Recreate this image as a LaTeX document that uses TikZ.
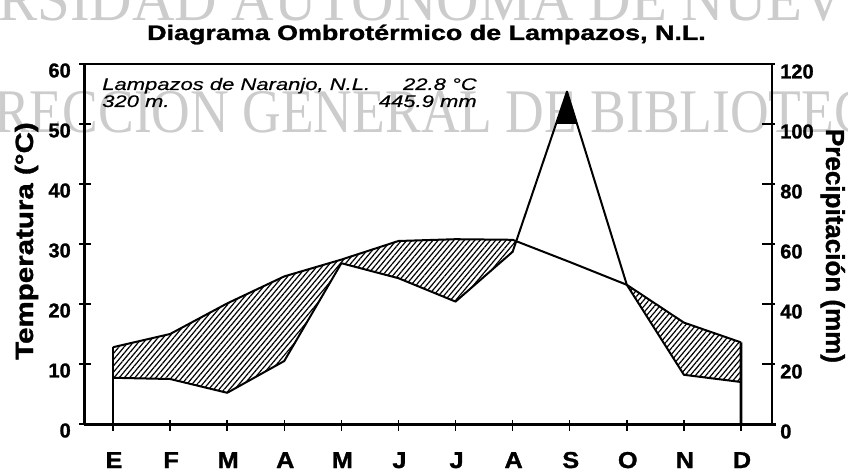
\documentclass[tikz,border=0pt]{standalone}
\usepackage{fontspec}
\setmainfont{Liberation Sans}
\newfontfamily\heavyfont{Liberation Sans}[BoldFeatures={FakeBold=1.2}, ItalicFeatures={FakeBold=0.4}]
\newfontfamily\wmfont{Liberation Serif}
\usetikzlibrary{patterns.meta}
\tikzset{
  wm/.style={font=\wmfont\fontsize{39.75pt}{40pt}\selectfont, text=black!20, inner sep=0pt},
  titlefont/.style={font=\heavyfont\bfseries\fontsize{15.75pt}{16pt}\selectfont, inner sep=0pt},
  info/.style={font=\heavyfont\itshape\fontsize{12.6pt}{13pt}\selectfont, inner sep=0pt},
  ticknum/.style={font=\heavyfont\bfseries\fontsize{15pt}{15pt}\selectfont, inner sep=0pt},
  monthlab/.style={font=\heavyfont\bfseries\fontsize{17.25pt}{17pt}\selectfont, inner sep=0pt},
  axlabA/.style={font=\heavyfont\bfseries\fontsize{18.75pt}{19pt}\selectfont, inner sep=0pt},
  axlabB/.style={font=\heavyfont\bfseries\fontsize{19.5pt}{20pt}\selectfont, inner sep=0pt},
  curve/.style={line width=1.5pt, line join=round},
  hatch/.style={pattern={Lines[angle=50,distance=3pt,line width=0.9pt]}},
  tickmark/.style={line width=1.1pt},
}
\begin{document}
\begin{tikzpicture}[x=0.75pt,y=-0.75pt]
\useasboundingbox (0,0) rectangle (848,470);
\fill[white] (0,0) rectangle (848,470);
% watermark
\begin{scope}
\clip (0,0) rectangle (848,470);
\node[wm, anchor=base west] (wmA) at (-2,21) {\scalebox{1.11}[1.17]{RSIDAD AUTONOMA DE NUEV}};
\node[wm, anchor=base west] (wmB) at (-6,133) {\scalebox{1.01}[1.17]{RECCION GENERAL DE BIBLIOTEC}};
\end{scope}
% data
\foreach \i/\t/\p in {0/12.8/7.7, 1/15.0/7.5, 2/20.1/5.2, 3/24.6/10.5, 4/27.4/26.8, 5/30.5/24.3, 6/30.8/20.4, 7/30.7/28.7, 8/27.0/55.4, 9/23.2/23.2, 10/16.9/8.2, 11/13.6/7.0} {
  \coordinate (t\i) at ({113+57.09*\i},{424-6*\t});
  \coordinate (p\i) at ({113+57.09*\i},{424-6*\p});
}
\coordinate (p8) at (567,{424-6*55.4});
\coordinate (c1) at (intersection of p7--p8 and t7--t8);
% hatched areas
\path[hatch] (t0) -- (t1) -- (t2) -- (t3) -- (t4) -- (t5) -- (t6) -- (t7) -- (c1) -- (p7) -- (p6) -- (p5) -- (p4) -- (p3) -- (p2) -- (p1) -- (p0) -- cycle;
\path[hatch] (t9) -- (t10) -- (t11) -- (p11) -- (p10) -- cycle;
% black peak above 100 mm
\begin{scope}
\clip (0,0) rectangle (848,124);
\fill[black] (p7) -- (p8) -- (p9) -- cycle;
\end{scope}
% curves
\draw[curve] (t0) -- (t1) -- (t2) -- (t3) -- (t4) -- (t5) -- (t6) -- (t7) -- (t8) -- (t9) -- (t10) -- (t11);
\draw[curve] (p0) -- (p1) -- (p2) -- (p3) -- (p4) -- (p5) -- (p6) -- (p7) -- (p8) -- (p9) -- (p10) -- (p11);
\coordinate (e0) at (113,424);
\coordinate (d0) at (741,424);
\draw[line width=1.1pt] (e0) -- (t0);
\draw[line width=2.2pt] (d0) -- (t11);
% frame
\coordinate (tl) at (84,64);
\coordinate (bl) at (84,424);
\coordinate (tr) at (772,64);
\coordinate (br) at (772,424);
\coordinate (bx) at (776,424);
\draw[line width=2.25pt] (tl) -- (bl);
\draw[line width=1.9pt] (tl) -- (tr);
\draw[line width=1.5pt] (tr) -- (br);
\draw[line width=2.25pt] (bl) -- (bx);
% ticks and labels
\foreach \k in {0,...,6} {
  \draw[tickmark] (79,{424-60*\k}) -- (91,{424-60*\k});
  \draw[tickmark] (762,{424-60*\k}) -- (775,{424-60*\k});
  \pgfmathtruncatemacro{\lv}{10*\k}
  \pgfmathtruncatemacro{\rv}{20*\k}
  \node[ticknum, anchor=east] (yl\k) at (71,{430.5-60*\k}) {\lv};
  \node[ticknum, anchor=west] (yr\k) at (780,{431.5-60*\k}) {\rv};
}
\foreach \i in {0,...,11} {
  \draw[tickmark] ({113+57.09*\i},420) -- ({113+57.09*\i},431);
}
\foreach \m [count=\i from 0] in {E,F,M,A,M,J,J,A,S,O,N,D} {
  \node[monthlab, anchor=base] (m\i) at ({114+57.09*\i},468) {\scalebox{1.1}[1]{\m}};
}
% axis labels
\node[axlabA, rotate=90, anchor=base] (ylab) at (33,241) {\scalebox{1.18}[1]{Temperatura (°C)}};
\node[axlabB, rotate=-90, anchor=base] (y2lab) at (826,246) {Precipitación (mm)};
% title
\node[titlefont, anchor=base] (title) at (426.5,40) {\scalebox{1.28}[1]{Diagrama Ombrotérmico de Lampazos, N.L.}};
% station info
\node[info, anchor=base west] (loc) at (102,90) {\scalebox{1.31}[1]{Lampazos de Naranjo, N.L.}};
\node[info, anchor=base east] (tmean) at (477,90) {\scalebox{1.31}[1]{22.8 °C}};
\node[info, anchor=base west] (alt) at (102,107) {\scalebox{1.31}[1]{320 m.}};
\node[info, anchor=base east] (rain) at (477,107) {\scalebox{1.31}[1]{445.9 mm}};
\end{tikzpicture}
\end{document}
